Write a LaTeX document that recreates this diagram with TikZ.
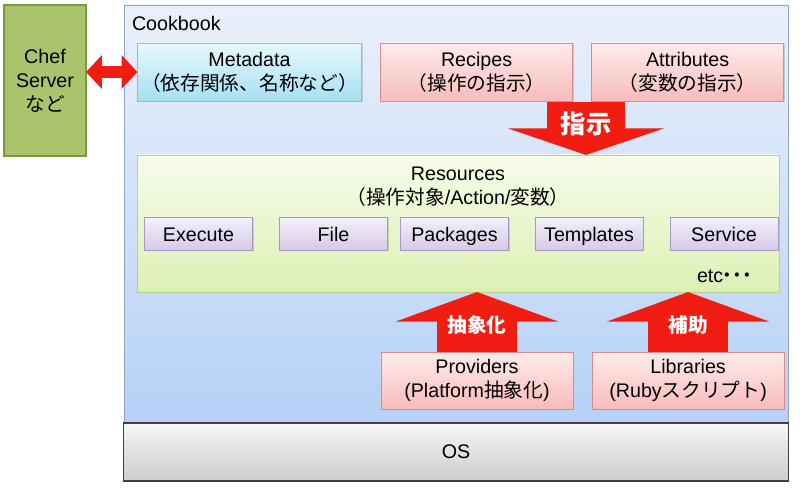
\documentclass[tikz,border=0pt]{standalone}
\usepackage{fontspec}
\setmainfont{Liberation Sans}
\newfontfamily\jp{Noto Sans CJK JP}
\usetikzlibrary{positioning,shadows,arrows.meta}

\definecolor{chefgreen}{HTML}{A9C46D}
\definecolor{chefline}{HTML}{7B9A3D}
\definecolor{cooktop}{HTML}{EAF0FB}
\definecolor{cookbot}{HTML}{B6D1F6}
\definecolor{cookline}{HTML}{8FA6C4}
\definecolor{metatop}{HTML}{E6F8FD}
\definecolor{metabot}{HTML}{A6E0F3}
\definecolor{metaline}{HTML}{7DC3DC}
\definecolor{pinktop}{HTML}{FFEBEB}
\definecolor{pinkbot}{HTML}{F8BBBB}
\definecolor{pinkline}{HTML}{D98A8A}
\definecolor{restop}{HTML}{F7FCEB}
\definecolor{resbot}{HTML}{DCF0B3}
\definecolor{resline}{HTML}{B5D187}
\definecolor{lavtop}{HTML}{F4F0FA}
\definecolor{lavbot}{HTML}{D5CAE8}
\definecolor{lavline}{HTML}{A698C2}
\definecolor{ostop}{HTML}{F6F6F6}
\definecolor{osbot}{HTML}{CCCCCC}
\definecolor{arrowred}{HTML}{F21D12}

\begin{document}
\begin{tikzpicture}[x=0.025cm,y=-0.025cm,
  every node/.style={inner sep=0pt,outer sep=0pt,font=\fontsize{14}{17}\selectfont},
  box/.style={draw,align=center,drop shadow={shadow xshift=0.7pt,shadow yshift=-0.9pt,opacity=0.3}},
  pinkbox/.style={box,draw=pinkline,top color=pinktop,bottom color=pinkbot,minimum width=4.8cm,minimum height=1.45cm},
  resbox/.style={box,draw=lavline,top color=lavtop,bottom color=lavbot,minimum width=2.7cm,minimum height=0.825cm,text height=12pt,text depth=0pt},
  downarrow/.style={draw=arrowred,line width=55pt,-{Triangle[length=19pt,width=111pt]}},
  uparrow/.style={draw=arrowred,line width=57pt,-{Triangle[length=21pt,width=115pt]}},
  dblarrow/.style={draw=arrowred,line width=9pt,{Triangle[length=11.3pt,width=23.4pt]}-{Triangle[length=11.3pt,width=23.4pt]}},
  arrowtext/.style={text=white,font=\jp\bfseries\fontsize{14}{14}\selectfont},
  node distance=0.475cm]
  \useasboundingbox (0,0) rectangle (800,488);
  \node[draw=cookline,top color=cooktop,bottom color=cookbot,minimum width=16.6cm,minimum height=10.45cm] (cookbook) at (456,214) {};
  \node[anchor=base west] (cooktitle) at (132,30) {Cookbook};
  \node[draw=black!75,line width=0.8pt,top color=ostop,bottom color=osbot,minimum width=16.6cm,minimum height=1.45cm] (os) at (456,452) {OS};
  \node[draw=chefline,line width=1.3pt,fill=chefgreen,minimum width=2.05cm,minimum height=3.775cm,align=center] (chef) at (45,80.5) {Chef\\Server\\{\jp など}};
  % top row
  \node[box,draw=metaline,top color=metatop,bottom color=metabot,minimum width=5.6cm,minimum height=1.45cm] (metadata) at (249.5,72) {Metadata\\{\jp （依存関係、名称など）}};
  \node[pinkbox] (recipes)[right=of metadata]{Recipes\\{\jp （操作の指示）}};
  \node[pinkbox] (attributes)[right=of recipes]{Attributes\\{\jp （変数の指示）}};
  % resources
  \node[box,draw=resline,top color=restop,bottom color=resbot,minimum width=16.05cm,minimum height=3.425cm] (resources) at (458,223.5) {};
  \node[align=center] (restitle) at (458,187) {Resources\\{\jp （操作対象}/Action/{\jp 変数）}};
  \node[resbox] (execute) at (198.5,233.5) {Execute};
  \node[resbox] (file) at (333.5,233.5) {File};
  \node[resbox] (packages) at (454.5,233.5) {Packages};
  \node[resbox] (templates) at (589,233.5) {Templates};
  \node[resbox] (service) at (724,233.5) {Service};
  \node[anchor=base west] (etc) at (697,282) {etc{\jp\kern-0.3em・\kern-0.5em・\kern-0.5em・}};
  % bottom row
  \node[pinkbox,minimum height=1.425cm] (providers) at (477,380.5) {Providers\\(Platform{\jp 抽象化})};
  \node[pinkbox,minimum height=1.425cm] (libraries)[right=of providers]{Libraries\\(Ruby{\jp スクリプト})};
  % arrows
  \coordinate (shijitop) at (586,102);
  \draw[downarrow] (shijitop) -- node[arrowtext,pos=0.415,font=\jp\bfseries\fontsize{18}{18}\selectfont]{指示} (shijitop |- resources.north);
  \draw[uparrow] (providers.north) -- node[arrowtext,pos=0.45]{抽象化} (providers.north |- resources.south);
  \draw[uparrow] (libraries.north) -- node[arrowtext,pos=0.45]{補助} (libraries.north |- resources.south);
  \draw[dblarrow] (chef.east |- metadata.west) -- (metadata.west);
\end{tikzpicture}
\end{document}
